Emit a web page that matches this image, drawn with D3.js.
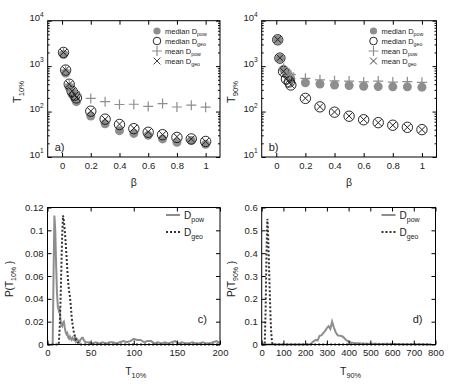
<!DOCTYPE html>
<html>
<head>
<meta charset="utf-8">
<script src="https://cdn.jsdelivr.net/npm/d3@7"></script>
<style>
  body { margin: 0; background: #fff; }
  svg text { font-family: "Liberation Sans", Arial, sans-serif; fill: #222; }
</style>
</head>
<body>
<svg id="fig" width="453" height="384"></svg>
<script>
// beta values (top panels)
var beta = [0.01, 0.025, 0.05, 0.07, 0.09, 0.1, 0.2, 0.3, 0.4, 0.5, 0.6, 0.7, 0.8, 0.9, 1.0];

// a) T10%
var t10MedPow  = [1800, 700, 340, 240, 190, 165, 80, 54, 38, 33, 30, 25, 21, 23, 19];
var t10MedGeo  = [2000, 820, 400, 280, 230, 200, 102, 68, 52, 42, 35, 31, 27, 25, 22];
var t10MeanPow = [2000, 820, 400, 300, 270, 240, 195, 165, 143, 145, 130, 150, 126, 138, 125];
var t10MeanGeo = [2000, 830, 400, 285, 230, 205, 103, 68, 53, 43, 36, 31, 28, 25, 22];

// b) T90%
var t90MedPow  = [3800, 1500, 850, 650, 580, 530, 430, 405, 385, 375, 360, 355, 350, 350, 345];
var t90MedGeo  = [3800, 1500, 760, 520, 450, 385, 195, 127, 97, 79, 66, 57, 50, 45, 40];
var t90MeanPow = [3800, 1550, 900, 750, 700, 650, 540, 500, 475, 470, 450, 470, 445, 455, 440];
var t90MeanGeo = [3850, 1520, 770, 520, 450, 390, 197, 128, 98, 80, 67, 57, 50, 45, 40];

// c) P(T10%)
var cPowT = [6, 7, 8, 9, 10, 11, 12, 13, 14, 15, 16, 17, 18, 19, 20, 21, 22, 23, 24, 25,
             26, 27, 28, 29, 30, 31, 32, 33, 34, 35, 36, 37, 38, 39, 40, 41, 42, 43, 44,
             48, 52, 56, 60, 64, 68, 72, 76, 80, 84, 88, 92, 96, 100, 104, 108, 112, 116, 120,
             124, 128, 132, 136, 140, 144, 148, 152, 156, 160, 164, 168, 172, 176, 180, 184,
             188, 192, 196, 200];
var cPowP = [0, 0.06, 0.113, 0.1, 0.07, 0.045, 0.033, 0.03, 0.032, 0.022, 0.017, 0.016, 0.019, 0.02, 0.015, 0.011, 0.009, 0.01, 0.006, 0.005,
             0.007, 0.005, 0.004, 0.006, 0.005, 0.004, 0.006, 0.003, 0.005, 0.004, 0.003, 0.002, 0.004, 0.005, 0.006, 0.006, 0.004, 0.003, 0.002,
             0.002, 0.001, 0.002, 0.001, 0.002, 0.001, 0.002, 0.002, 0.001, 0.002, 0.003, 0.002, 0.003, 0.005, 0.004, 0.004, 0.002, 0.003, 0.003,
             0.001, 0.002, 0.001, 0.002, 0.001, 0.002, 0.003, 0.001, 0.002, 0.001, 0.001, 0.002, 0.001, 0.001, 0.002, 0.001,
             0.001, 0.002, 0.003, 0.001];
var cGeoT = [0, 13, 14, 15, 16, 17, 18, 19, 20, 21, 22, 23, 24, 25, 26, 27, 28, 29, 30, 31, 32, 33, 34, 35, 36, 37, 200];
var cGeoP = [0, 0, 0.012, 0.035, 0.065, 0.095, 0.113, 0.108, 0.1, 0.09, 0.078, 0.065, 0.054, 0.047, 0.042, 0.034, 0.024, 0.018,
             0.013, 0.009, 0.006, 0.004, 0.003, 0.002, 0.001, 0, 0];

// d) P(T90%)
var dPowT = [0, 220, 228, 240, 250, 258, 266, 275, 283, 292, 300, 308, 316, 324, 332, 340, 350, 362, 374, 386, 398,
             410, 425, 440, 460, 490, 520, 550, 580, 610, 650, 700, 780];
var dPowP = [0, 0, 0.004, 0.015, 0.02, 0.018, 0.038, 0.04, 0.05, 0.06, 0.072, 0.08, 0.068, 0.1, 0.075, 0.055, 0.04, 0.038, 0.034, 0.022, 0.014,
             0.009, 0.006, 0.005, 0.004, 0.003, 0.003, 0.002, 0.003, 0.002, 0.001, 0.001, 0];
var dGeoT = [0, 14, 18, 22, 26, 29, 32, 35, 38, 41, 44, 47, 50, 780];
var dGeoP = [0, 0, 0.15, 0.4, 0.55, 0.5, 0.4, 0.3, 0.2, 0.11, 0.05, 0.015, 0, 0];

// tick values
var xTicksTop = [0, 0.2, 0.4, 0.6, 0.8, 1];
var yTicksLog = [10, 100, 1000, 10000];
var yMinorLog = [20, 30, 40, 50, 60, 70, 80, 90, 200, 300, 400, 500, 600, 700, 800, 900,
                 2000, 3000, 4000, 5000, 6000, 7000, 8000, 9000];
var xTicksC = [0, 50, 100, 150, 200];
var yTicksC = [0, 0.02, 0.04, 0.06, 0.08, 0.1, 0.12];
var xTicksD = [0, 100, 200, 300, 400, 500, 600, 700, 800];
var yTicksD = [0, 0.1, 0.2, 0.3, 0.4, 0.5, 0.6];

var gray = "#8e8e8e", dark = "#333";
var svg = d3.select("#fig");

// panel boxes
var A = {x0: 47.7, x1: 220, y0: 20.7, y1: 157};
var B = {x0: 261.7, x1: 436.5, y0: 20.7, y1: 157};
var C = {x0: 47.5, x1: 220, y0: 207.5, y1: 344.5};
var D = {x0: 261.7, x1: 435.5, y0: 207.5, y1: 344.5};

// text with sub/superscripts
function rich(text, parts, fs) {
  var shift = 0;
  parts.forEach(function(p) {
    var target = p[1] === "sub" ? fs * 0.3 : p[1] === "sup" ? -fs * 0.45 : 0;
    text.append("tspan").attr("dy", target - shift).attr("font-size", p[1] ? fs * 0.7 : fs).text(p[0]);
    shift = target;
  });
  return text;
}

function frame(box, x, y, xTicks, yTicks, log) {
  var g = svg.append("g");
  function ax(axis, tr) {
    return g.append("g").attr("transform", tr).call(axis)
      .attr("font-family", null).attr("font-size", 9.5)
      .call(function(s) { s.select(".domain").remove(); });
  }
  var fmt = function(d) { return d; };
  ax(d3.axisBottom(x).tickValues(xTicks).tickSize(-4).tickPadding(5).tickFormat(fmt), "translate(0," + box.y1 + ")");
  ax(d3.axisTop(x).tickValues(xTicks).tickSize(-4).tickFormat(""), "translate(0," + box.y0 + ")");
  var left = ax(d3.axisLeft(y).tickValues(yTicks).tickSize(-4).tickPadding(4).tickFormat(log ? function() { return ""; } : fmt),
     "translate(" + box.x0 + ",0)");
  ax(d3.axisRight(y).tickValues(yTicks).tickSize(-4).tickFormat(""), "translate(" + box.x1 + ",0)");
  if (log) {
    ax(d3.axisLeft(y).tickValues(yMinorLog).tickSize(-2).tickFormat(""), "translate(" + box.x0 + ",0)");
    ax(d3.axisRight(y).tickValues(yMinorLog).tickSize(-2).tickFormat(""), "translate(" + box.x1 + ",0)");
    left.selectAll(".tick text").each(function(d) {
      rich(d3.select(this), [["10", ""], [String(Math.round(Math.log10(d))), "sup"]], 9.5);
    });
  }
  g.append("rect").attr("x", box.x0).attr("y", box.y0)
    .attr("width", box.x1 - box.x0).attr("height", box.y1 - box.y0)
    .attr("fill", "none").attr("stroke", "#000").attr("stroke-width", 1);
  return g;
}

function plus(px, py, s) { return "M" + (px - s) + "," + py + "H" + (px + s) + "M" + px + "," + (py - s) + "V" + (py + s); }
function cross(px, py, s) { return "M" + (px - s) + "," + (py - s) + "L" + (px + s) + "," + (py + s) + "M" + (px - s) + "," + (py + s) + "L" + (px + s) + "," + (py - s); }

function scatterPanel(box, medPow, medGeo, meanPow, meanGeo, yName, tag) {
  var x = d3.scaleLinear().domain([-0.1, 1.1]).range([box.x0, box.x1]);
  var y = d3.scaleLog().domain([10, 10000]).range([box.y1, box.y0]);
  var g = svg.append("g");
  g.selectAll(".mp").data(beta).enter().append("circle")
    .attr("cx", function(d) { return x(d); })
    .attr("cy", function(d, i) { return y(medPow[i]); })
    .attr("r", 4.5).attr("fill", gray);
  g.selectAll(".mg").data(beta).enter().append("circle")
    .attr("cx", function(d) { return x(d); })
    .attr("cy", function(d, i) { return y(medGeo[i]); })
    .attr("r", 5.2).attr("fill", "none").attr("stroke", "#111").attr("stroke-width", 0.9);
  g.selectAll(".np").data(beta).enter().append("path")
    .attr("d", function(d, i) { return plus(x(d), y(meanPow[i]), 5); })
    .attr("stroke", gray).attr("stroke-width", 1.2);
  g.selectAll(".ng").data(beta).enter().append("path")
    .attr("d", function(d, i) { return cross(x(d), y(meanGeo[i]), 3.4); })
    .attr("stroke", "#222").attr("stroke-width", 1);

  frame(box, x, y, xTicksTop, yTicksLog, true);

  // legend
  var lx = box.x1 - 63, rows = [31, 41, 51, 61];
  var lg = svg.append("g");
  lg.append("circle").attr("cx", lx).attr("cy", rows[0]).attr("r", 3.6).attr("fill", gray);
  lg.append("circle").attr("cx", lx).attr("cy", rows[1]).attr("r", 3.8).attr("fill", "none").attr("stroke", "#111").attr("stroke-width", 0.9);
  lg.append("path").attr("d", plus(lx, rows[2], 5)).attr("stroke", gray).attr("stroke-width", 1.2);
  lg.append("path").attr("d", cross(lx, rows[3], 3.4)).attr("stroke", "#444").attr("stroke-width", 1);
  var names = [["median D", "pow"], ["median D", "geo"], ["mean D", "pow"], ["mean D", "geo"]];
  names.forEach(function(n, i) {
    rich(lg.append("text").attr("x", lx + 8).attr("y", rows[i] + 2.5), [[n[0], ""], [n[1], "sub"]], 7.5);
  });

  // axis labels
  svg.append("text").attr("x", (box.x0 + box.x1) / 2).attr("y", 186).attr("text-anchor", "middle")
    .attr("font-size", 10.5).text("β");
  rich(svg.append("text").attr("text-anchor", "middle")
    .attr("transform", "translate(" + (box.x0 - 27) + ",92) rotate(-90)"), [["T", ""], [yName, "sub"]], 11);
  svg.append("text").attr("x", box.x0 + 7).attr("y", 151).attr("font-size", 11).text(tag);
}

function histPanel(box, xMax, xTicks, yTicks, powT, powP, geoT, geoP, yName, tag, ylx) {
  var x = d3.scaleLinear().domain([0, xMax]).range([box.x0, box.x1]);
  var y = d3.scaleLinear().domain([0, yTicks[yTicks.length - 1]]).range([box.y1, box.y0]);
  var line = d3.line().x(function(d) { return x(d[0]); }).y(function(d) { return y(d[1]); });
  var g = svg.append("g");
  g.append("path").datum(d3.zip(powT, powP)).attr("d", line)
    .attr("fill", "none").attr("stroke", gray).attr("stroke-width", 2);
  g.append("path").datum(d3.zip(geoT, geoP)).attr("d", line)
    .attr("fill", "none").attr("stroke", dark).attr("stroke-width", 2).attr("stroke-dasharray", "2,2");

  frame(box, x, y, xTicks, yTicks, false);

  // legend
  var lx = box.x1 - 54;
  svg.append("line").attr("x1", lx).attr("x2", lx + 14).attr("y1", 215).attr("y2", 215)
    .attr("stroke", gray).attr("stroke-width", 2);
  svg.append("line").attr("x1", lx).attr("x2", lx + 14).attr("y1", 232).attr("y2", 232)
    .attr("stroke", dark).attr("stroke-width", 2).attr("stroke-dasharray", "2,2");
  rich(svg.append("text").attr("x", lx + 18).attr("y", 218.5), [["D", ""], ["pow", "sub"]], 10);
  rich(svg.append("text").attr("x", lx + 18).attr("y", 235.5), [["D", ""], ["geo", "sub"]], 10);

  // axis labels
  rich(svg.append("text").attr("x", (box.x0 + box.x1) / 2 + 2).attr("y", 375).attr("text-anchor", "middle"),
    [["T", ""], [yName, "sub"]], 10.5);
  rich(svg.append("text").attr("text-anchor", "middle")
    .attr("transform", "translate(" + ylx + ",279) rotate(-90)"), [["P(T", ""], [yName, "sub"], [" )", ""]], 10);
  svg.append("text").attr("x", box.x1 - 13).attr("y", 323).attr("text-anchor", "end").attr("font-size", 11).text(tag);
}

scatterPanel(A, t10MedPow, t10MedGeo, t10MeanPow, t10MeanGeo, "10%", "a)");
scatterPanel(B, t90MedPow, t90MedGeo, t90MeanPow, t90MeanGeo, "90%", "b)");
histPanel(C, 200, xTicksC, yTicksC, cPowT, cPowP, cGeoT, cGeoP, "10%", "c)", 13);
histPanel(D, 800, xTicksD, yTicksD, dPowT, dPowP, dGeoT, dGeoP, "90%", "d)", 235);
</script>
</body>
</html>
